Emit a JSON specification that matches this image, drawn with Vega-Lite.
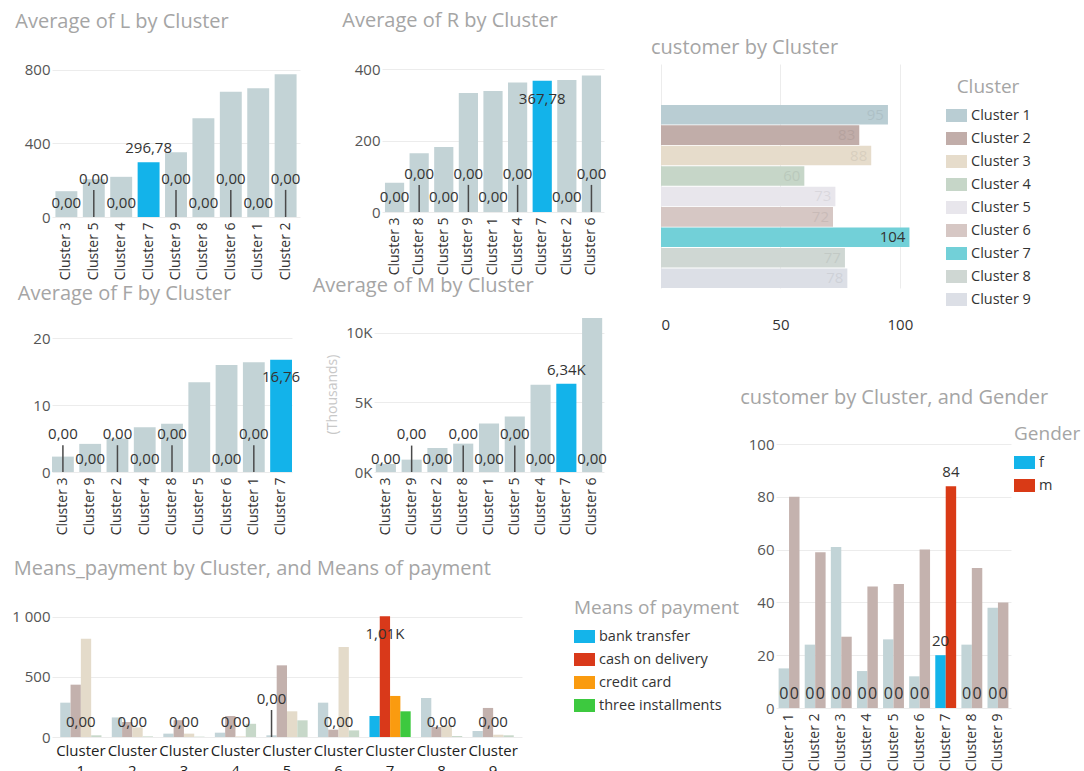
{
  "$schema": "https://vega.github.io/schema/vega-lite/v6.json",
  "padding": {"left": 11, "top": 11, "right": 0, "bottom": 0},
  "background": "white",
  "datasets": {
    "clusters": [
      {"Cluster": "Cluster 1", "L": 698, "R": 339, "F": 16.4, "M": 3480, "customers": 95},
      {"Cluster": "Cluster 2", "L": 775, "R": 370, "F": 5.0, "M": 1730, "customers": 83},
      {"Cluster": "Cluster 3", "L": 140, "R": 82, "F": 2.3, "M": 580, "customers": 88},
      {"Cluster": "Cluster 4", "L": 218, "R": 363, "F": 6.7, "M": 6280, "customers": 60},
      {"Cluster": "Cluster 5", "L": 205, "R": 182, "F": 13.4, "M": 4000, "customers": 73},
      {"Cluster": "Cluster 6", "L": 680, "R": 383, "F": 16.0, "M": 11080, "customers": 72},
      {"Cluster": "Cluster 7", "L": 296.78, "R": 367.78, "F": 16.76, "M": 6340, "customers": 104},
      {"Cluster": "Cluster 8", "L": 536, "R": 165, "F": 7.2, "M": 2040, "customers": 77},
      {"Cluster": "Cluster 9", "L": 351, "R": 334, "F": 4.2, "M": 890, "customers": 78}
    ],
    "gender": [
      {"Cluster": "Cluster 1", "Gender": "f", "count": 15}, {"Cluster": "Cluster 1", "Gender": "m", "count": 80},
      {"Cluster": "Cluster 2", "Gender": "f", "count": 24}, {"Cluster": "Cluster 2", "Gender": "m", "count": 59},
      {"Cluster": "Cluster 3", "Gender": "f", "count": 61}, {"Cluster": "Cluster 3", "Gender": "m", "count": 27},
      {"Cluster": "Cluster 4", "Gender": "f", "count": 14}, {"Cluster": "Cluster 4", "Gender": "m", "count": 46},
      {"Cluster": "Cluster 5", "Gender": "f", "count": 26}, {"Cluster": "Cluster 5", "Gender": "m", "count": 47},
      {"Cluster": "Cluster 6", "Gender": "f", "count": 12}, {"Cluster": "Cluster 6", "Gender": "m", "count": 60},
      {"Cluster": "Cluster 7", "Gender": "f", "count": 20}, {"Cluster": "Cluster 7", "Gender": "m", "count": 84},
      {"Cluster": "Cluster 8", "Gender": "f", "count": 24}, {"Cluster": "Cluster 8", "Gender": "m", "count": 53},
      {"Cluster": "Cluster 9", "Gender": "f", "count": 38}, {"Cluster": "Cluster 9", "Gender": "m", "count": 40}
    ],
    "payment": [
      {"Cluster": "Cluster 1", "Means": "bank transfer", "amount": 286}, {"Cluster": "Cluster 1", "Means": "cash on delivery", "amount": 436}, {"Cluster": "Cluster 1", "Means": "credit card", "amount": 819}, {"Cluster": "Cluster 1", "Means": "three installments", "amount": 14},
      {"Cluster": "Cluster 2", "Means": "bank transfer", "amount": 163}, {"Cluster": "Cluster 2", "Means": "cash on delivery", "amount": 125}, {"Cluster": "Cluster 2", "Means": "credit card", "amount": 80}, {"Cluster": "Cluster 2", "Means": "three installments", "amount": 5},
      {"Cluster": "Cluster 3", "Means": "bank transfer", "amount": 28}, {"Cluster": "Cluster 3", "Means": "cash on delivery", "amount": 140}, {"Cluster": "Cluster 3", "Means": "credit card", "amount": 28}, {"Cluster": "Cluster 3", "Means": "three installments", "amount": 3},
      {"Cluster": "Cluster 4", "Means": "bank transfer", "amount": 36}, {"Cluster": "Cluster 4", "Means": "cash on delivery", "amount": 175}, {"Cluster": "Cluster 4", "Means": "credit card", "amount": 5}, {"Cluster": "Cluster 4", "Means": "three installments", "amount": 110},
      {"Cluster": "Cluster 5", "Means": "bank transfer", "amount": 14}, {"Cluster": "Cluster 5", "Means": "cash on delivery", "amount": 597}, {"Cluster": "Cluster 5", "Means": "credit card", "amount": 214}, {"Cluster": "Cluster 5", "Means": "three installments", "amount": 139},
      {"Cluster": "Cluster 6", "Means": "bank transfer", "amount": 286}, {"Cluster": "Cluster 6", "Means": "cash on delivery", "amount": 61}, {"Cluster": "Cluster 6", "Means": "credit card", "amount": 750}, {"Cluster": "Cluster 6", "Means": "three installments", "amount": 55},
      {"Cluster": "Cluster 7", "Means": "bank transfer", "amount": 175}, {"Cluster": "Cluster 7", "Means": "cash on delivery", "amount": 1006}, {"Cluster": "Cluster 7", "Means": "credit card", "amount": 342}, {"Cluster": "Cluster 7", "Means": "three installments", "amount": 214},
      {"Cluster": "Cluster 8", "Means": "bank transfer", "amount": 325}, {"Cluster": "Cluster 8", "Means": "cash on delivery", "amount": 83}, {"Cluster": "Cluster 8", "Means": "credit card", "amount": 97}, {"Cluster": "Cluster 8", "Means": "three installments", "amount": 8},
      {"Cluster": "Cluster 9", "Means": "bank transfer", "amount": 50}, {"Cluster": "Cluster 9", "Means": "cash on delivery", "amount": 242}, {"Cluster": "Cluster 9", "Means": "credit card", "amount": 19}, {"Cluster": "Cluster 9", "Means": "three installments", "amount": 14}
    ]
  },
  "bounds": "flush",
  "spacing": 609,
  "resolve": {"scale": {"color": "independent", "xOffset": "independent"}, "legend": {"color": "independent"}},
  "hconcat": [
    {
      "spacing": 24,
      "resolve": {"scale": {"color": "independent", "xOffset": "independent"}, "legend": {"color": "independent"}},
      "vconcat": [
        {
          "spacing": -4,
          "vconcat": [
            {
              "spacing": 41,
              "hconcat": [
                {
                  "title": {"text": "Average of L by Cluster", "offset": 31, "dx": -9},
                  "width": 248, "height": 153,
                  "data": {"name": "clusters"},
                  "encoding": {"x": {"field": "Cluster", "type": "nominal", "sort": ["Cluster 3","Cluster 5","Cluster 4","Cluster 7","Cluster 9","Cluster 8","Cluster 6","Cluster 1","Cluster 2"], "scale": {"paddingInner": 0.2, "paddingOuter": 0.125}, "axis": {"labelAngle": -90, "title": null, "labelPadding": 5}}},
                  "layer": [
                    {"mark": {"type": "bar"}, "encoding": {"y": {"field": "L", "type": "quantitative", "scale": {"domain": [0, 830], "nice": false}, "axis": {"values": [0, 200, 400, 600, 800], "title": null}}, "color": {"condition": {"test": "datum.Cluster === 'Cluster 7'", "value": "#13b3ea"}, "value": "#c3d3d6"}}},
                    {"transform": [{"filter": {"field": "Cluster", "oneOf": ["Cluster 5","Cluster 9","Cluster 6","Cluster 2"]}}], "mark": {"type": "rule", "color": "#4a4a4a", "strokeWidth": 1.5}, "encoding": {"y": {"datum": 0, "title": null}, "y2": {"datum": 147}}},
                    {"transform": [{"filter": {"field": "Cluster", "oneOf": ["Cluster 5","Cluster 9","Cluster 6","Cluster 2"]}}], "mark": {"type": "text", "dy": -38, "fontSize": 15, "color": "#333333"}, "encoding": {"y": {"datum": 0, "title": null}, "text": {"value": "0,00"}}},
                    {"transform": [{"filter": {"field": "Cluster", "oneOf": ["Cluster 3","Cluster 4","Cluster 8","Cluster 1"]}}], "mark": {"type": "text", "dy": -14, "fontSize": 15, "color": "#333333"}, "encoding": {"y": {"datum": 0, "title": null}, "text": {"value": "0,00"}}},
                    {"transform": [{"filter": "datum.Cluster === 'Cluster 7'"}, {"calculate": "replace(format(datum.L, '.2f'), '.', ',')", "as": "lbl"}], "mark": {"type": "text", "dy": -14, "fontSize": 15, "color": "#333333"}, "encoding": {"y": {"field": "L", "type": "quantitative"}, "text": {"field": "lbl"}}}
                  ]
                },
                {
                  "title": {"text": "Average of R by Cluster", "offset": 31, "dx": -12},
                  "width": 222, "height": 148,
                  "data": {"name": "clusters"},
                  "encoding": {"x": {"field": "Cluster", "type": "nominal", "sort": ["Cluster 3","Cluster 8","Cluster 5","Cluster 9","Cluster 1","Cluster 4","Cluster 7","Cluster 2","Cluster 6"], "scale": {"paddingInner": 0.22, "paddingOuter": 0.12}, "axis": {"labelAngle": -90, "title": null, "labelPadding": 5}}},
                  "layer": [
                    {"mark": {"type": "bar"}, "encoding": {"y": {"field": "R", "type": "quantitative", "scale": {"domain": [0, 415], "nice": false}, "axis": {"values": [0, 100, 200, 300, 400], "title": null}}, "color": {"condition": {"test": "datum.Cluster === 'Cluster 7'", "value": "#13b3ea"}, "value": "#c3d3d6"}}},
                    {"transform": [{"filter": {"field": "Cluster", "oneOf": ["Cluster 8","Cluster 9","Cluster 4","Cluster 6"]}}], "mark": {"type": "rule", "color": "#4a4a4a", "strokeWidth": 1.5}, "encoding": {"y": {"datum": 0, "title": null}, "y2": {"datum": 76}}},
                    {"transform": [{"filter": {"field": "Cluster", "oneOf": ["Cluster 8","Cluster 9","Cluster 4","Cluster 6"]}}], "mark": {"type": "text", "dy": -38, "fontSize": 15, "color": "#333333"}, "encoding": {"y": {"datum": 0, "title": null}, "text": {"value": "0,00"}}},
                    {"transform": [{"filter": {"field": "Cluster", "oneOf": ["Cluster 3","Cluster 5","Cluster 1","Cluster 2"]}}], "mark": {"type": "text", "dy": -15, "fontSize": 15, "color": "#333333"}, "encoding": {"y": {"datum": 0, "title": null}, "text": {"value": "0,00"}}},
                    {"transform": [{"filter": "datum.Cluster === 'Cluster 7'"}, {"calculate": "replace(format(datum.R, '.2f'), '.', ',')", "as": "lbl"}], "mark": {"type": "text", "dy": 18, "fontSize": 15, "color": "#333333"}, "encoding": {"y": {"field": "R", "type": "quantitative"}, "text": {"field": "lbl"}}}
                  ]
                }
              ]
            },
            {
              "spacing": 11,
              "hconcat": [
                {
                  "title": {"text": "Average of F by Cluster", "offset": 12, "dx": -15},
                  "width": 240, "height": 156,
                  "data": {"name": "clusters"},
                  "encoding": {"x": {"field": "Cluster", "type": "nominal", "sort": ["Cluster 3","Cluster 9","Cluster 2","Cluster 4","Cluster 8","Cluster 5","Cluster 6","Cluster 1","Cluster 7"], "scale": {"paddingInner": 0.2, "paddingOuter": 0.0}, "axis": {"labelAngle": -90, "title": null, "labelPadding": 5}}},
                  "layer": [
                    {"mark": {"type": "bar"}, "encoding": {"y": {"field": "F", "type": "quantitative", "scale": {"domain": [0, 23.3], "nice": false}, "axis": {"values": [0, 5, 10, 15, 20], "title": null}}, "color": {"condition": {"test": "datum.Cluster === 'Cluster 7'", "value": "#13b3ea"}, "value": "#c3d3d6"}}},
                    {"transform": [{"filter": {"field": "Cluster", "oneOf": ["Cluster 3","Cluster 2","Cluster 8","Cluster 1"]}}], "mark": {"type": "rule", "color": "#4a4a4a", "strokeWidth": 1.5}, "encoding": {"y": {"datum": 0, "title": null}, "y2": {"datum": 4.0}}},
                    {"transform": [{"filter": {"field": "Cluster", "oneOf": ["Cluster 3","Cluster 2","Cluster 8","Cluster 1"]}}], "mark": {"type": "text", "dy": -38, "fontSize": 15, "color": "#333333"}, "encoding": {"y": {"datum": 0, "title": null}, "text": {"value": "0,00"}}},
                    {"transform": [{"filter": {"field": "Cluster", "oneOf": ["Cluster 9","Cluster 4","Cluster 6"]}}], "mark": {"type": "text", "dy": -13, "fontSize": 15, "color": "#333333"}, "encoding": {"y": {"datum": 0, "title": null}, "text": {"value": "0,00"}}},
                    {"transform": [{"filter": "datum.Cluster === 'Cluster 7'"}, {"calculate": "replace(format(datum.F, '.2f'), '.', ',')", "as": "lbl"}], "mark": {"type": "text", "dy": 17, "fontSize": 15, "color": "#333333"}, "encoding": {"y": {"field": "F", "type": "quantitative"}, "text": {"field": "lbl"}}}
                  ]
                },
                {
                  "title": {"text": "Average of M by Cluster", "offset": 20, "dx": -13},
                  "width": 230, "height": 156,
                  "data": {"name": "clusters"},
                  "encoding": {"x": {"field": "Cluster", "type": "nominal", "sort": ["Cluster 3","Cluster 9","Cluster 2","Cluster 8","Cluster 1","Cluster 5","Cluster 4","Cluster 7","Cluster 6"], "scale": {"paddingInner": 0.22, "paddingOuter": 0.07}, "axis": {"labelAngle": -90, "title": null, "labelPadding": 5}}},
                  "layer": [
                    {"mark": {"type": "bar"}, "encoding": {"y": {"field": "M", "type": "quantitative", "scale": {"domain": [0, 11220], "nice": false}, "axis": {"values": [0, 5000, 10000], "labelExpr": "datum.value / 1000 + 'K'", "title": "(Thousands)", "titleColor": "#c8c8c8", "titleFontSize": 14, "titleFontWeight": "normal", "titlePadding": 6}}, "color": {"condition": {"test": "datum.Cluster === 'Cluster 7'", "value": "#13b3ea"}, "value": "#c3d3d6"}}},
                    {"transform": [{"filter": {"field": "Cluster", "oneOf": ["Cluster 9","Cluster 8","Cluster 5"]}}], "mark": {"type": "rule", "color": "#4a4a4a", "strokeWidth": 1.5}, "encoding": {"y": {"datum": 0}, "y2": {"datum": 1900}}},
                    {"transform": [{"filter": {"field": "Cluster", "oneOf": ["Cluster 9","Cluster 8","Cluster 5"]}}], "mark": {"type": "text", "dy": -38, "fontSize": 15, "color": "#333333"}, "encoding": {"y": {"datum": 0}, "text": {"value": "0,00"}}},
                    {"transform": [{"filter": {"field": "Cluster", "oneOf": ["Cluster 3","Cluster 2","Cluster 1","Cluster 4","Cluster 6"]}}], "mark": {"type": "text", "dy": -13, "fontSize": 15, "color": "#333333"}, "encoding": {"y": {"datum": 0}, "text": {"value": "0,00"}}},
                    {"transform": [{"filter": "datum.Cluster === 'Cluster 7'"}, {"calculate": "replace(format(datum.M / 1000, '.2f'), '.', ',') + 'K'", "as": "lbl"}], "mark": {"type": "text", "dy": -14, "fontSize": 15, "color": "#333333"}, "encoding": {"y": {"field": "M", "type": "quantitative"}, "text": {"field": "lbl"}}}
                  ]
                }
              ]
            }
          ]
        },
        {
          "title": {"text": "Means_payment by Cluster, and Means of payment", "offset": 20, "dx": 2},
          "width": 470, "height": 130,
          "data": {"name": "payment"},
          "encoding": {"x": {"field": "Cluster", "type": "nominal", "scale": {"paddingInner": 0.2, "paddingOuter": 0.16}, "axis": {"labelAngle": 0, "labelExpr": "split(datum.label, ' ')", "title": null, "labelFontSize": 15, "labelColor": "#222222", "labelPadding": 6, "labelLineHeight": 20}}},
          "layer": [
            {"transform": [{"filter": "datum.Cluster !== 'Cluster 7'"}], "mark": {"type": "bar"}, "encoding": {
              "xOffset": {"field": "Means", "type": "nominal"},
              "y": {"field": "amount", "type": "quantitative", "scale": {"domain": [0, 1083], "nice": false}, "axis": {"values": [0, 500, 1000], "labelExpr": "datum.value == 1000 ? '1 000' : datum.label", "title": null}},
              "color": {"field": "Means", "type": "nominal", "scale": {"domain": ["bank transfer","cash on delivery","credit card","three installments"], "range": ["#c3d4d8","#c3b1ad","#e4dbca","#c7d8c9"]}, "legend": null}
            }},
            {"transform": [{"filter": "datum.Cluster === 'Cluster 7'"}], "mark": {"type": "bar"}, "encoding": {
              "xOffset": {"field": "Means", "type": "nominal"},
              "y": {"field": "amount", "type": "quantitative"},
              "color": {"field": "Means", "type": "nominal", "scale": {"domain": ["bank transfer","cash on delivery","credit card","three installments"], "range": ["#14b4ea","#d9391a","#fa9b0f","#3dc93f"]}, "legend": {"title": "Means of payment", "orient": "none", "legendX": 522, "legendY": -8}}
            }},
            {"transform": [{"filter": "datum.Cluster === 'Cluster 5' && datum.Means === 'bank transfer'"}], "mark": {"type": "rule", "color": "#4a4a4a", "strokeWidth": 1.5}, "encoding": {"xOffset": {"field": "Means", "type": "nominal"}, "y": {"datum": 0, "title": null}, "y2": {"datum": 225}}},
            {"transform": [{"filter": "datum.Cluster === 'Cluster 5' && datum.Means === 'bank transfer'"}], "mark": {"type": "text", "dy": -38, "fontSize": 15, "color": "#333333"}, "encoding": {"xOffset": {"field": "Means", "type": "nominal"}, "y": {"datum": 0, "title": null}, "text": {"value": "0,00"}}},
            {"transform": [{"filter": "datum.Cluster !== 'Cluster 5' && datum.Cluster !== 'Cluster 7' && datum.Means === 'cash on delivery'"}], "mark": {"type": "text", "dy": -15, "fontSize": 15, "color": "#333333"}, "encoding": {"y": {"datum": 0, "title": null}, "text": {"value": "0,00"}}},
            {"transform": [{"filter": "datum.Cluster === 'Cluster 7' && datum.Means === 'cash on delivery'"}, {"calculate": "replace(format(datum.amount / 1000, '.2f'), '.', ',') + 'K'", "as": "lbl"}], "mark": {"type": "text", "dy": 18, "fontSize": 15, "color": "#333333"}, "encoding": {"xOffset": {"field": "Means", "type": "nominal"}, "y": {"field": "amount", "type": "quantitative"}, "text": {"field": "lbl"}}}
          ],
          "resolve": {"scale": {"color": "independent"}}
        }
      ]
    },
    {
      "spacing": 56,
      "resolve": {"scale": {"color": "independent", "xOffset": "independent"}, "legend": {"color": "independent"}},
      "vconcat": [
        {
          "title": {"text": "customer by Cluster", "offset": 6, "dx": -10},
          "width": 258, "height": 224,
          "data": {"name": "clusters"},
          "encoding": {"y": {"field": "Cluster", "type": "nominal", "sort": ["Cluster 1","Cluster 2","Cluster 3","Cluster 4","Cluster 5","Cluster 6","Cluster 7","Cluster 8","Cluster 9"], "scale": {"paddingInner": 0.04, "paddingOuter": 1, "align": 1}, "axis": null}},
          "layer": [
            {"mark": {"type": "bar"}, "encoding": {
              "x": {"field": "customers", "type": "quantitative", "scale": {"domain": [0, 108], "nice": false}, "axis": {"values": [0, 50, 100], "title": null, "grid": true, "labelPadding": 29, "labelFontSize": 15}},
              "color": {"field": "Cluster", "type": "nominal", "scale": {"domain": ["Cluster 1","Cluster 2","Cluster 3","Cluster 4","Cluster 5","Cluster 6","Cluster 7","Cluster 8","Cluster 9"], "range": ["#b9cdd3","#c1ada9","#e6dccb","#c6d6c8","#e8e6ec","#d6c7c4","#72d0d8","#cfd7d3","#dcdfe6"]}, "legend": {"title": "Cluster", "orient": "none", "legendX": 285, "legendY": 14, "titleAnchor": "middle"}}
            }},
            {"mark": {"type": "text", "align": "right", "dx": -4, "fontSize": 15}, "encoding": {
              "x": {"field": "customers", "type": "quantitative"},
              "text": {"field": "customers"},
              "color": {"condition": {"test": "datum.Cluster === 'Cluster 7'", "value": "#333333"}, "value": "#000000"},
              "opacity": {"condition": {"test": "datum.Cluster === 'Cluster 7'", "value": 1}, "value": 0.06}
            }}
          ]
        },
        {
          "spacing": 75,
          "resolve": {"scale": {"color": "independent", "xOffset": "independent"}, "legend": {"color": "independent"}},
          "hconcat": [
            {"width": 1, "height": 1, "data": {"values": [{"a": 1}]}, "mark": {"type": "point", "opacity": 0}},
            {
              "title": {"text": "customer by Cluster, and Gender", "offset": 17, "dx": -8},
              "width": 235, "height": 264,
              "data": {"name": "gender"},
              "encoding": {"x": {"field": "Cluster", "type": "nominal", "scale": {"paddingInner": 0.2, "paddingOuter": 0.1}, "axis": {"labelAngle": -90, "title": null, "labelPadding": 5}}},
              "layer": [
                {"transform": [{"filter": "datum.Cluster !== 'Cluster 7'"}], "mark": {"type": "bar"}, "encoding": {
                  "xOffset": {"field": "Gender", "type": "nominal", "scale": {"domain": ["f", "m"]}},
                  "y": {"field": "count", "type": "quantitative", "scale": {"domain": [0, 100], "nice": false}, "axis": {"values": [0, 20, 40, 60, 80, 100], "title": null}},
                  "color": {"field": "Gender", "type": "nominal", "scale": {"domain": ["f", "m"], "range": ["#c2d4d7", "#c4b2ae"]}, "legend": null}
                }},
                {"transform": [{"filter": "datum.Cluster === 'Cluster 7'"}], "mark": {"type": "bar"}, "encoding": {
                  "xOffset": {"field": "Gender", "type": "nominal"},
                  "y": {"field": "count", "type": "quantitative"},
                  "color": {"field": "Gender", "type": "nominal", "scale": {"domain": ["f", "m"], "range": ["#13b4ea", "#d93a16"]}, "legend": {"title": "Gender", "orient": "none", "legendX": 238, "legendY": -19}}
                }},
                {"transform": [{"filter": "datum.Cluster !== 'Cluster 7'"}], "mark": {"type": "text", "dy": -14, "fontSize": 16, "color": "#333333"}, "encoding": {"xOffset": {"field": "Gender", "type": "nominal"}, "y": {"datum": 0, "title": null}, "text": {"value": "0"}}},
                {"transform": [{"filter": "datum.Cluster === 'Cluster 7'"}], "mark": {"type": "text", "dy": -14, "fontSize": 15, "color": "#333333"}, "encoding": {"xOffset": {"field": "Gender", "type": "nominal"}, "y": {"field": "count", "type": "quantitative"}, "text": {"field": "count"}}}
              ],
              "resolve": {"scale": {"color": "independent"}}
            }
          ]
        }
      ]
    }
  ],
  "config": {
    "font": "Open Sans",
    "view": {"stroke": null},
    "axis": {"domain": false, "ticks": false, "labelColor": "#555555", "labelFontSize": 15, "gridColor": "#ececec", "labelFont": "Open Sans"},
    "axisX": {"grid": false, "labelColor": "#333333", "labelFontSize": 14},
    "axisY": {"grid": true},
    "title": {"anchor": "start", "color": "#a5a5a5", "fontSize": 20, "fontWeight": "normal", "font": "Open Sans"},
    "legend": {"titleColor": "#a5a5a5", "titleFontSize": 19, "titleFontWeight": "normal", "titleFont": "Open Sans", "labelFontSize": 14.5, "labelColor": "#333333", "labelFont": "Open Sans", "symbolType": "M-1,-0.62H1V0.62H-1Z", "symbolSize": 440, "symbolStrokeWidth": 0, "symbolOpacity": 1, "rowPadding": 5, "labelOffset": 4, "titlePadding": 8},
    "text": {"font": "Open Sans"}
  }
}
